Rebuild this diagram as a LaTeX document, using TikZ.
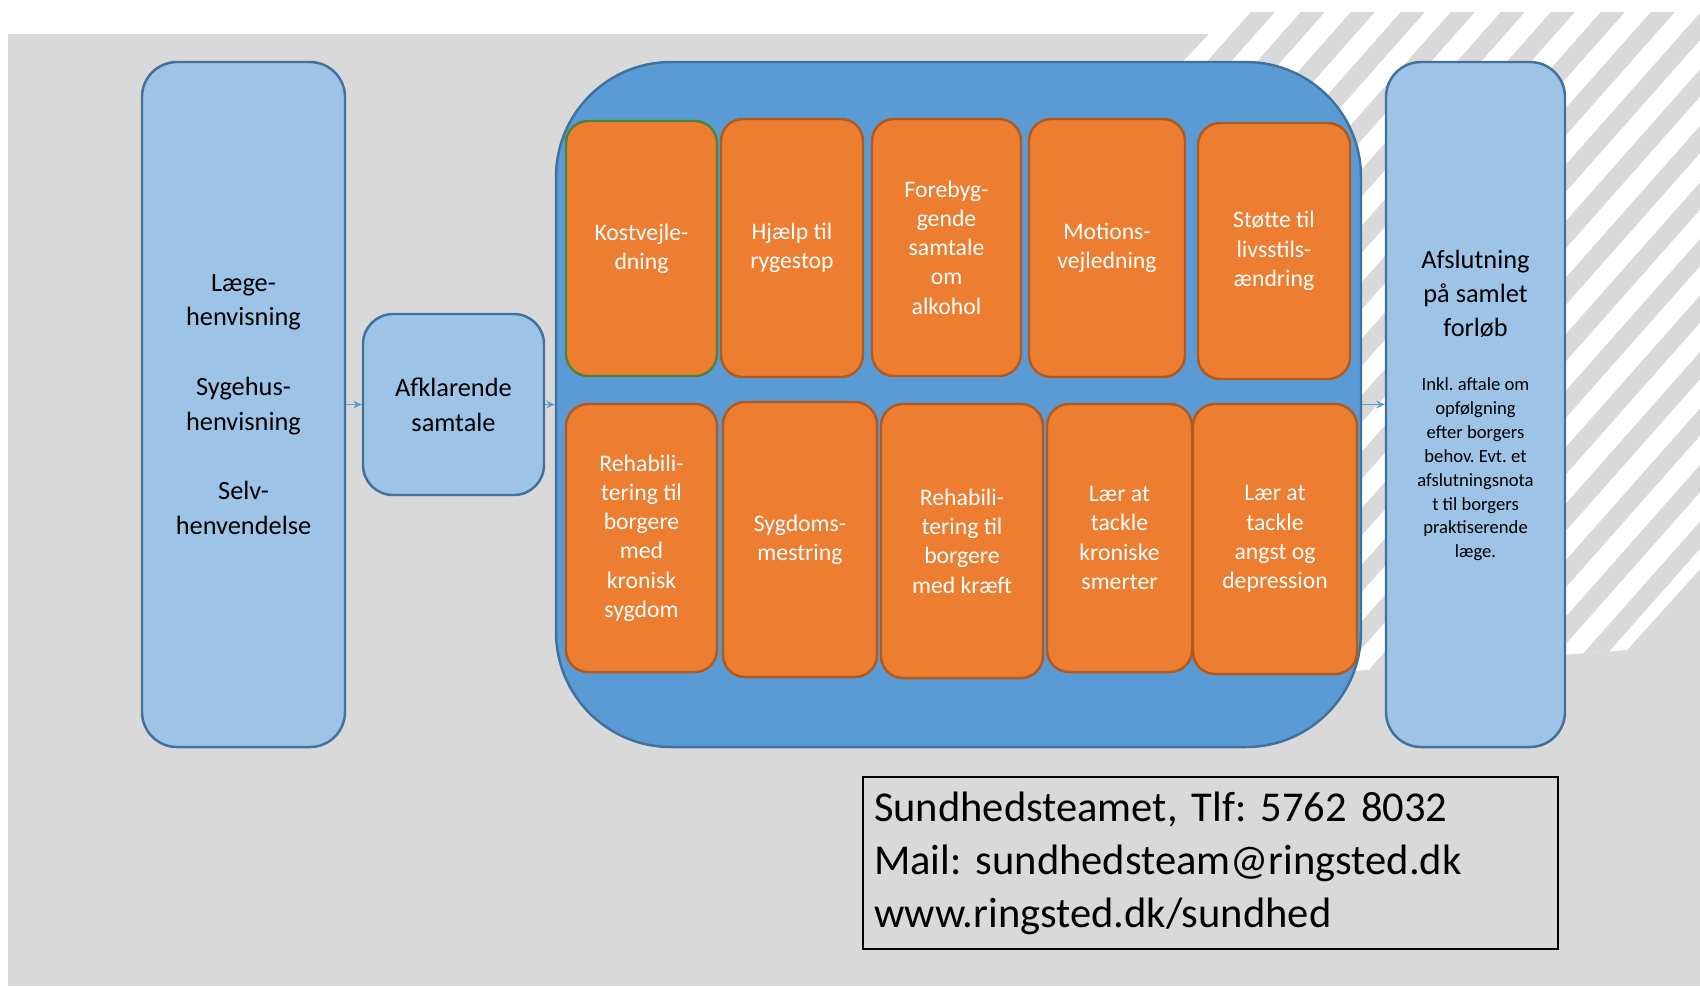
\documentclass[tikz,border=0pt]{standalone}
\usepackage{fontspec}
\setmainfont{Carlito}
\usetikzlibrary{arrows.meta}
\definecolor{bggray}{HTML}{D9D9D9}
\definecolor{lightblue}{HTML}{9DC3E6}
\definecolor{midblue}{HTML}{5B9BD5}
\definecolor{edgeblue}{HTML}{41719C}
\definecolor{boxorange}{HTML}{ED7D31}
\definecolor{edgeorange}{HTML}{AE5A21}
\definecolor{edgegreen}{HTML}{548235}
\frenchspacing
\begin{document}
\begin{tikzpicture}[>={Stealth[length=2.4pt,width=2.2pt]},flow/.style={->,draw=midblue,line width=0.35pt},blue node/.style={rectangle,rounded corners=0.35cm,draw=edgeblue,line width=0.7pt,fill=lightblue,align=center,inner sep=0pt,font=\fontsize{7.5}{9.9}\selectfont},course node/.style={rectangle,rounded corners=0.22cm,draw=edgeorange,line width=0.7pt,fill=boxorange,text=white,align=center,inner sep=0pt,font=\fontsize{6.75}{8.33}\selectfont}]

      \useasboundingbox (0,0) rectangle (17,-9.86);
      \fill[bggray] (0.08,-0.337) rectangle (17,-9.86);
      \begin{scope}
        \clip (12.3,-0.12) -- (17,-0.12) -- (17,-5.69) -- (16.27,-6.5) -- (13.65,-6.7) -- (11.75,-6.9) -- (11.75,-0.7) -- cycle;
        \fill[white] (11,0) rectangle (17,-7);
        \foreach \x in {0,...,30}
          \draw[bggray,line width=0.18cm] ({12.0+0.5*\x},0.3) -- ++(228.5:11);
      \end{scope}

      \node[blue node, minimum width=2.03cm, minimum height=6.85cm] at (2.435,-4.045) (1) {Læge-\\henvisning\\[9.9pt]Sygehus-\\henvisning\\[9.9pt]Selv-\\henvendelse};
      \node[blue node, rounded corners=0.3cm, minimum width=1.81cm, minimum height=1.81cm] at (4.535,-4.045) (2) {Afklarende\\samtale};
      \node[blue node, fill=midblue, rounded corners=1.15cm, minimum width=8.05cm, minimum height=6.85cm] at (9.585,-4.045) (3) {};
      \node[blue node, minimum width=1.79cm, minimum height=6.85cm] at (14.755,-4.045) (4) {};
      \node[align=center, font=\fontsize{7.5}{9.6}\selectfont] at (14.755,-2.94) (4a) {Afslutning\\på samlet\\forløb};
      \node[align=center, font=\fontsize{5.3}{6.78}\selectfont] at (14.755,-4.695) (4b) {Inkl. aftale om\\opfølgning\\efter borgers\\behov. Evt. et\\afslutningsnota\\t til borgers\\praktiserende\\læge.};

      \node[course node, draw=edgegreen, minimum width=1.51cm, minimum height=2.55cm] at (6.415,-2.485) (5) {Kostvejle-\\dning};
      \node[course node, minimum width=1.42cm, minimum height=2.58cm] at (7.92,-2.48) (6) {Hjælp til\\rygestop};
      \node[course node, minimum width=1.49cm, minimum height=2.57cm] at (9.465,-2.475) (7) {Forebyg-\\gende\\samtale\\om\\alkohol};
      \node[course node, minimum width=1.56cm, minimum height=2.58cm] at (11.07,-2.48) (8) {Motions-\\vejledning};
      \node[course node, minimum width=1.52cm, minimum height=2.56cm] at (12.74,-2.51) (9) {Støtte til\\livsstils-\\ændring};
      \node[course node, minimum width=1.51cm, minimum height=2.68cm] at (6.415,-5.38) (10) {Rehabili-\\tering til\\borgere\\med\\kronisk\\sygdom};
      \node[course node, minimum width=1.54cm, minimum height=2.75cm] at (8.0,-5.395) (11) {Sygdoms-\\mestring};
      \node[course node, minimum width=1.62cm, minimum height=2.74cm] at (9.62,-5.41) (12) {Rehabili-\\tering til\\borgere\\med kræft};
      \node[course node, minimum width=1.45cm, minimum height=2.68cm] at (11.195,-5.38) (13) {Lær at\\tackle\\kroniske\\smerter};
      \node[course node, minimum width=1.64cm, minimum height=2.70cm] at (12.75,-5.39) (14) {Lær at\\tackle\\angst og\\depression};

      \node[draw=black, line width=0.6pt, minimum width=6.95cm, minimum height=1.72cm, text width=6.73cm, inner xsep=0.11cm, align=left, font=\fontsize{12.1}{15.1}\selectfont] at (12.105,-8.63) (15) {Sundhedsteamet, Tlf: 5762 8032\\Mail: sundhedsteam@ringsted.dk\\www.ringsted.dk/sundhed};

      \path
      (1) edge[flow] (2)
      (2) edge[flow] (3)
      (3) edge[flow] (4)
      ;

    \end{tikzpicture}
\end{document}
